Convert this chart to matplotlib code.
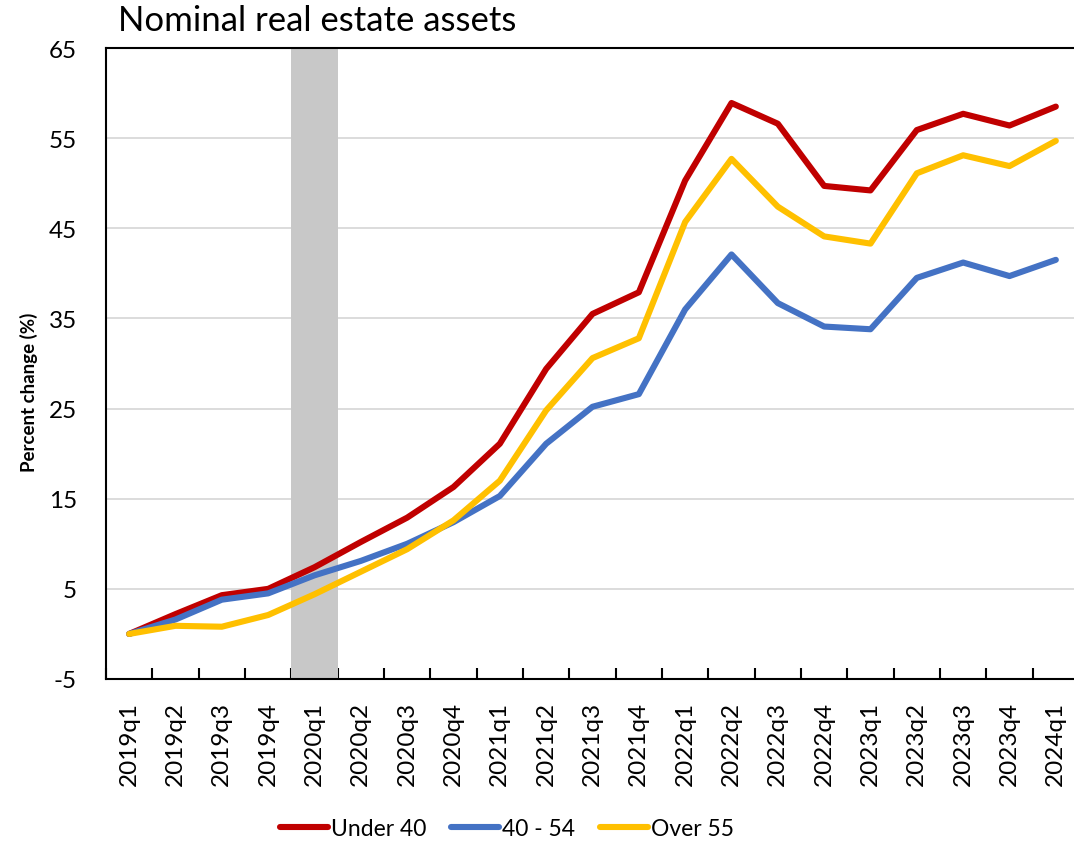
import matplotlib
matplotlib.use("Agg")
import matplotlib.pyplot as plt
from matplotlib.ticker import FixedLocator, NullFormatter

plt.rcParams['font.family'] = ['Lato', 'DejaVu Sans']
plt.rcParams['axes.unicode_minus'] = False

quarters = ["2019q1", "2019q2", "2019q3", "2019q4",
            "2020q1", "2020q2", "2020q3", "2020q4",
            "2021q1", "2021q2", "2021q3", "2021q4",
            "2022q1", "2022q2", "2022q3", "2022q4",
            "2023q1", "2023q2", "2023q3", "2023q4",
            "2024q1"]
under_40 = [0.0, 2.2, 4.3, 5.0, 7.4, 10.2, 12.9, 16.3, 21.1, 29.4, 35.5, 37.9,
            50.3, 58.9, 56.6, 49.7, 49.2, 55.9, 57.7, 56.4, 58.5]
age_40_54 = [0.0, 1.6, 3.8, 4.5, 6.5, 8.1, 10.0, 12.4, 15.3, 21.1, 25.2, 26.6,
             36.0, 42.1, 36.7, 34.1, 33.8, 39.5, 41.2, 39.7, 41.5]
over_55 = [0.0, 0.9, 0.8, 2.1, 4.4, 6.9, 9.4, 12.6, 17.0, 24.8, 30.6, 32.8,
           45.7, 52.7, 47.4, 44.1, 43.3, 51.1, 53.1, 51.9, 54.7]
series_names = ["Under 40", "40 - 54", "Over 55"]
recession_quarter = "2020q1"
y_ticks = [-5, 5, 15, 25, 35, 45, 55, 65]

W, H = 1074, 845
fig = plt.figure(figsize=(W / 100, H / 100), dpi=100)
ax = fig.add_axes([106 / W, 1 - 680 / H, (1079 - 106) / W, (680 - 49) / H])

x = list(range(len(quarters)))
ri = quarters.index(recession_quarter)
ax.axvspan(ri - 0.5, ri + 0.5, color="#C8C8C8", lw=0, zorder=1)

colors = ["#C00000", "#4472C4", "#FFC000"]
for vals, name, c in zip([under_40, age_40_54, over_55], series_names, colors):
    ax.plot(x, vals, color=c, lw=4.4, solid_capstyle="round",
            solid_joinstyle="round", label=name, zorder=3)

ax.set_xlim(-0.5, len(quarters) - 0.5)
ax.set_ylim(y_ticks[0], y_ticks[-1])
ax.set_yticks(y_ticks)
ax.yaxis.grid(True, color="#D9D9D9", lw=1.3, zorder=0)
ax.set_axisbelow(True)
ax.tick_params(axis="y", length=0, labelsize=17.5, pad=21)

ax.set_xticks(x)
ax.set_xticklabels(quarters, rotation=90, fontsize=17.5)
ax.tick_params(axis="x", which="major", length=0, pad=16)
ax.xaxis.set_minor_locator(FixedLocator([i + 0.5 for i in range(-1, len(quarters))]))
ax.xaxis.set_minor_formatter(NullFormatter())
ax.tick_params(axis="x", which="minor", direction="in", length=8, width=1.5, color="black")

for s in ["left", "bottom", "top"]:
    ax.spines[s].set_linewidth(1.5)
    ax.spines[s].set_color("black")
ax.spines["right"].set_visible(False)

fig.text(29 / W, 1 - 392 / H, "Percent change (%)", fontsize=13.5,
         fontweight="bold", rotation=90, ha="center", va="center")

fig.text(118 / W, 1 - 21 / H, "Nominal real estate assets", fontsize=25,
         ha="left", va="center")

leg = fig.legend(loc="center", bbox_to_anchor=(507 / W, 1 - 830 / H), ncol=3,
                 frameon=False, fontsize=16.5, handlelength=2.1,
                 handletextpad=0.12, columnspacing=1.1)

fig.savefig("out.png", dpi=100)
